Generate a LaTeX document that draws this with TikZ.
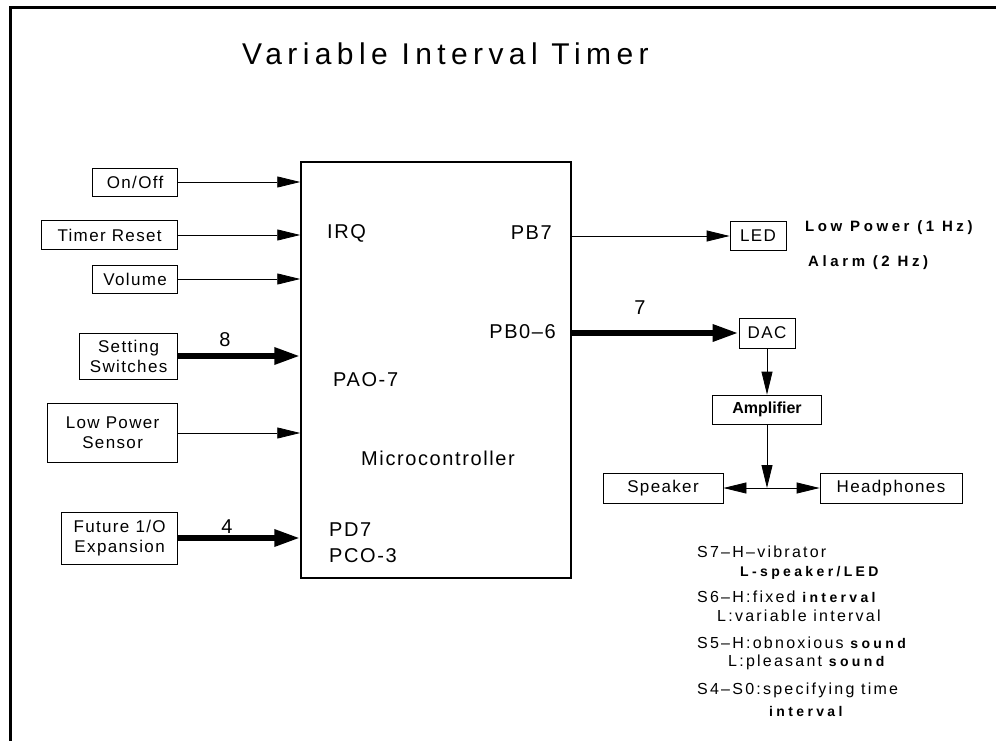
\documentclass[tikz,border=0pt]{standalone}
\usepackage{fontspec}
\setmainfont{Liberation Sans}
\newfontfamily\titlefont[LetterSpace=18]{Liberation Sans}
\newfontfamily\boxfont[LetterSpace=8]{Liberation Sans}
\newfontfamily\pinfont[LetterSpace=8]{Liberation Sans}
\newfontfamily\notefont[LetterSpace=14]{Liberation Sans}
\newfontfamily\spacedfont[LetterSpace=24]{Liberation Sans}
\usetikzlibrary{arrows.meta,positioning}
\newcommand{\heavytxt}[1]{{\spacedfont\bfseries\fontsize{14}{16}\selectfont #1}}

\begin{document}
\begin{tikzpicture}[x=1pt, y=-1pt, font=\boxfont\fontsize{17}{20}\selectfont]
    % --- Estilos ---
    \tikzset{
        blk/.style={draw, line width=0.8pt, inner sep=0pt, align=center},
        inbox/.style={blk, anchor=east},
        thin arrow/.style={line width=0.8pt, -{Triangle[length=23pt,width=11pt]}},
        bus arrow/.style={line width=6pt, -{Triangle[length=26pt,width=16pt]}},
        pin/.style={inner sep=0pt, font=\pinfont\fontsize{20}{24}\selectfont},
        note/.style={inner sep=0pt, anchor=west, font=\notefont\fontsize{16}{19}\selectfont},
        boldnote/.style={note, font=\spacedfont\bfseries\fontsize{14}{16}\selectfont},
        lednote/.style={note, font=\spacedfont\bfseries\fontsize{15}{18}\selectfont}
    }
    \useasboundingbox (0,0) rectangle (996,741);

    % --- Marco y titulo ---
    \draw[line width=3pt] (10,741) -- (10,8) -- (996,8);
    \node[anchor=base west, inner sep=0pt, font=\titlefont\fontsize{30}{36}\selectfont]
        (title) at (242,65) {Variable Interval Timer};

    % --- Microcontrolador ---
    \node[draw, line width=1.5pt, minimum width=270pt, minimum height=416pt, inner sep=0pt]
        (mcu) at (436,370) {};
    \node[pin, anchor=west] (irq) at (327,233) {IRQ};
    \node[pin, anchor=east] (pb7) at (552,233) {PB7};
    \node[pin, anchor=east] (pb06) at (556,332) {PB0–6};
    \node[pin, anchor=west] (pa07) at (333,380) {PAO-7};
    \node[pin] (mcutxt) at (438,458) {Microcontroller};
    \node[pin, anchor=west] (pd7) at (329,530) {PD7};
    \node[pin, anchor=west] (pc03) at (329,556) {PCO-3};

    % --- Entradas ---
    \node[inbox, minimum width=85pt, minimum height=28pt] (onoff) at (178,182) {On/Off};
    \node[inbox, minimum width=136pt, minimum height=29pt] (reset) at (178,235) {Timer Reset};
    \node[inbox, minimum width=85pt, minimum height=28pt] (volume) at (178,279) {Volume};
    \node[inbox, minimum width=98pt, minimum height=46pt] (setting) at (178,356) {Setting\\Switches};
    \node[inbox, minimum width=130pt, minimum height=59pt] (lowpower) at (178,433) {Low Power\\Sensor};
    \node[inbox, minimum width=116pt, minimum height=52pt] (future) at (178,538) {Future 1/O\\Expansion};

    \foreach \src in {onoff,reset,volume,lowpower}
        \draw[thin arrow] (\src.east) -- (\src.east -| mcu.west);
    \foreach \src in {setting,future}
        \draw[bus arrow] (\src.east) -- (\src.east -| mcu.west);
    \node[pin] (n8) at (225,340) {8};
    \node[pin] (n4) at (227,527) {4};

    % --- Salidas ---
    \node[blk, minimum width=56pt, minimum height=29pt] (led) at (758,236) {LED};
    \draw[thin arrow] (mcu.east |- led) -- (led.west);
    \node[lednote] (lowtxt) at (805,228) {Low Power (1 Hz)};
    \node[lednote] (alarmtxt) at (808,263) {Alarm (2 Hz)};

    \node[blk, minimum width=56pt, minimum height=30pt] (dac) at (767,333) {DAC};
    \draw[bus arrow] (mcu.east |- dac) -- (dac.west);
    \node[pin] (n7) at (640,308) {7};

    \node[blk, minimum width=109pt, minimum height=29pt,
          font=\bfseries\fontsize{16}{19}\selectfont] (amp) at (767,409.5) {Amplifier};
    \draw[thin arrow] (dac.south) -- (amp.north);

    \node[blk, minimum width=120pt, minimum height=30pt] (speaker) at (663,488) {Speaker};
    \node[blk, minimum width=142pt, minimum height=30pt] (phones) at (891,488) {Headphones};
    \coordinate (jn) at (amp |- speaker);
    \draw[thin arrow] (amp.south) -- (jn);
    \draw[thin arrow] (jn) -- (speaker.east);
    \draw[thin arrow] (jn) -- (phones.west);

    % --- Notas de interruptores ---
    \node[note] (s7) at (697,552) {S7–H–vibrator};
    \node[boldnote] (s7l) at (740,573) {L-speaker/LED};
    \node[note] (s6) at (697,597) {S6–H:fixed \heavytxt{interval}};
    \node[note] (s6l) at (717,616) {L:variable interval};
    \node[note] (s5) at (697,643) {S5–H:obnoxious \heavytxt{sound}};
    \node[note] (s5l) at (728,662) {L:pleasant \heavytxt{sound}};
    \node[note] (s4) at (697,690) {S4–S0:specifying time};
    \node[boldnote] (s4l) at (769,711) {interval};
\end{tikzpicture}
\end{document}
